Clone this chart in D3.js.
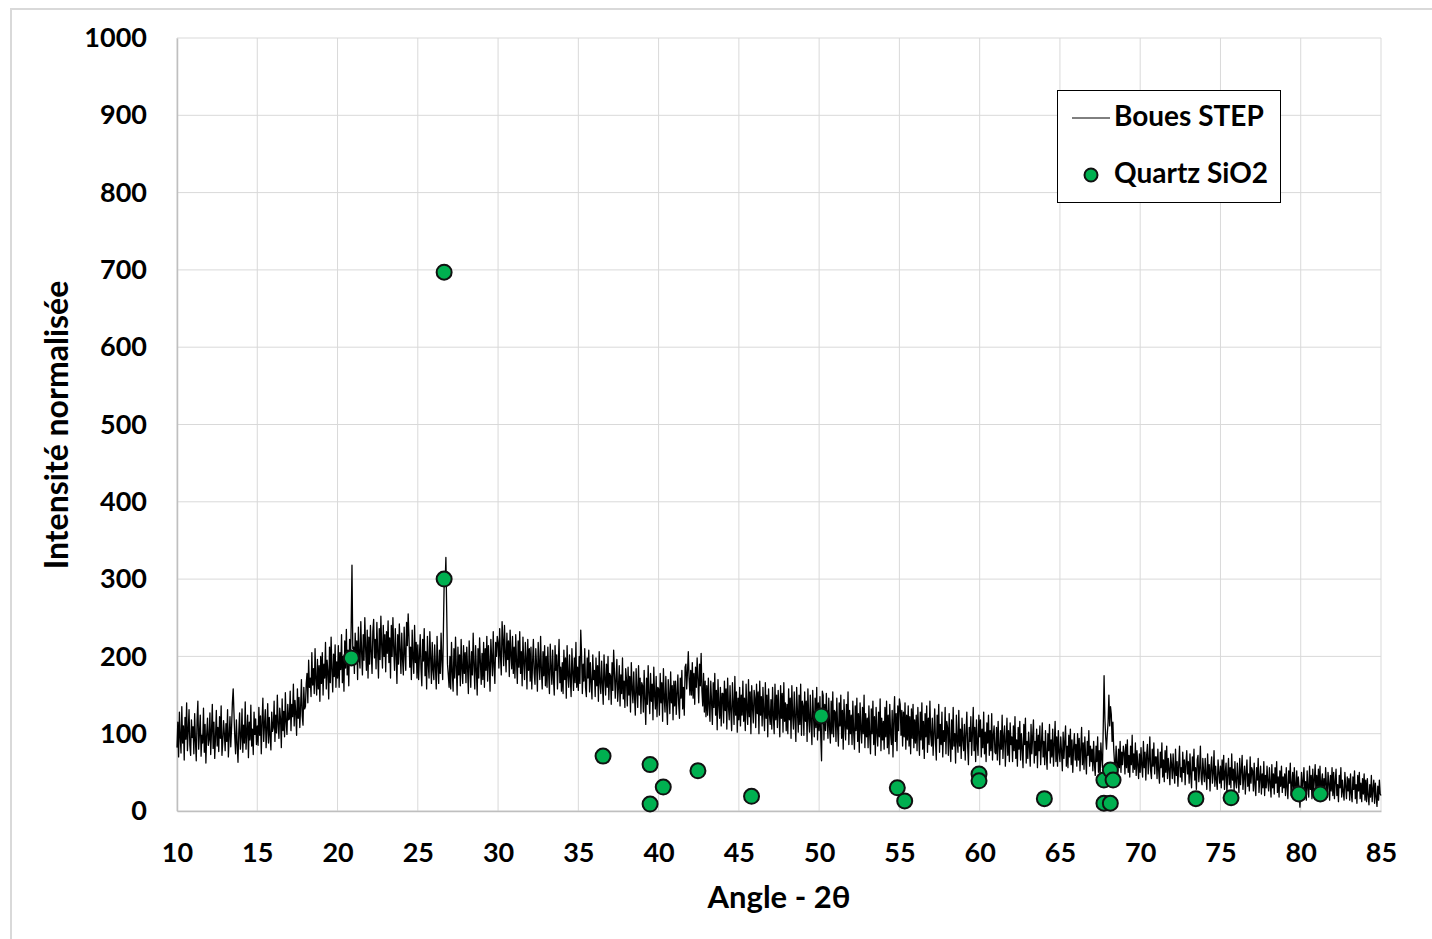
<!DOCTYPE html>
<html><head><meta charset="utf-8">
<script src="https://d3js.org/d3.v7.min.js"></script>
<style>
body{margin:0;background:#fff}
svg text{font-family:Lato,"Open Sans",sans-serif;font-weight:bold;fill:#000}
</style></head><body>
<svg id="c" width="1432" height="939"></svg>
<script>
// Diffractogram "Boues STEP": intensities from 10° to 85° every 0.05°
const angleStart = 10, angleStep = 0.05;
const intensity = [
82,115,70,128,96,75,135,88,110,66,121,93,140,78,104,131,85,72,118,95,
109,74,126,90,65,117,142,80,101,124,71,98,88,133,76,112,62,99,120,85,
92,127,73,104,138,81,115,68,96,130,84,108,77,122,94,136,72,89,117,100,
78,113,90,131,70,97,122,83,108,140,158,126,95,74,118,86,63,102,127,80,
95,132,76,111,88,141,80,103,124,69,115,92,137,84,106,73,128,99,119,86,
110,85,134,98,123,74,116,146,90,112,131,82,105,139,88,121,97,79,128,103,
108,142,90,124,101,150,112,94,133,119,82,145,104,129,96,153,115,99,138,118,
119,155,104,138,122,164,110,143,127,98,158,120,147,108,134,170,123,111,160,132,
135,165,178,140,195,160,172,148,205,163,184,152,210,170,150,196,158,188,142,200,
165,205,150,190,172,218,158,195,180,145,212,166,225,182,154,203,174,215,160,193,
172,214,160,205,183,228,166,200,155,220,185,235,176,208,162,222,190,240,318,210,
212,178,230,192,220,170,238,200,185,245,205,176,228,195,250,210,182,234,172,225,
190,240,205,178,232,248,198,222,184,244,206,172,236,196,252,214,185,240,200,228,
180,232,204,246,192,224,172,240,200,250,210,182,236,202,165,228,190,242,208,178,
230,196,176,238,204,182,244,214,255,226,186,212,170,234,198,178,240,192,218,172,
215,170,200,228,184,162,222,194,236,175,206,158,226,190,172,232,198,165,218,182,
170,215,186,158,226,190,165,208,178,230,195,170,240,305,292,328,260,190,176,160,
200,158,218,180,155,210,172,225,186,150,212,176,202,162,222,184,165,214,178,205,
166,212,185,152,220,190,160,206,176,230,188,158,214,182,150,210,172,224,192,164,
204,170,218,160,210,182,226,168,214,190,155,222,198,175,232,186,165,218,200,226,
218,185,236,200,176,245,222,188,240,204,180,230,196,220,174,234,202,184,226,178,
212,172,228,194,165,220,186,232,178,206,162,225,192,170,218,198,158,222,182,210,
168,212,158,192,222,178,164,210,188,155,218,190,170,226,182,158,206,175,214,162,
200,160,212,178,152,216,186,164,208,172,150,214,182,202,158,190,222,166,186,155,
192,152,208,170,198,146,214,176,160,202,172,148,210,180,156,198,166,218,160,186,
156,200,165,234,204,152,190,168,210,160,148,198,172,208,154,192,166,145,202,170,
182,148,198,162,188,142,206,166,152,194,164,138,202,172,150,190,160,200,144,178,
175,138,192,156,208,180,146,170,196,142,160,188,136,176,152,198,145,168,134,184,
170,136,186,150,174,128,192,158,140,180,148,124,184,156,134,188,150,172,126,166,
162,128,182,144,112,172,138,188,150,126,178,142,164,118,186,150,132,174,122,160,
158,124,178,140,166,116,184,146,128,174,138,112,170,150,126,180,140,162,118,168,
136,168,125,152,176,138,120,172,146,182,132,160,124,186,190,158,180,206,172,150,
182,150,192,146,178,138,186,160,198,170,140,190,162,204,155,136,178,128,168,122,
162,124,172,136,116,168,140,112,166,134,178,124,156,105,170,138,120,160,110,152,
152,114,168,130,158,106,172,136,118,162,128,104,166,138,112,174,124,154,102,146,
118,160,110,150,124,168,116,146,104,164,132,112,170,122,154,100,162,134,114,156,
146,108,164,126,154,100,168,124,148,110,160,128,104,166,120,150,96,158,126,112,
144,106,160,122,100,164,118,150,108,156,126,96,162,120,152,102,166,116,140,104,
138,100,158,118,146,94,162,124,106,154,120,90,160,128,102,150,112,164,98,142,
136,98,154,116,142,90,158,120,102,150,114,86,156,122,96,146,108,160,92,140,
104,148,96,65,155,150,92,138,104,152,118,94,146,108,88,142,100,154,96,130,
128,90,146,108,84,140,110,150,94,130,80,144,112,92,138,106,154,86,130,100,
124,86,142,102,80,136,104,146,90,126,76,140,106,88,134,100,150,82,126,96,
120,82,136,98,74,132,100,142,86,122,72,134,102,84,128,96,145,78,120,92,
116,80,134,96,142,82,124,74,138,100,86,130,70,118,148,90,126,78,136,104,
145,138,98,130,84,128,96,140,80,124,92,136,84,122,74,132,94,138,82,118,
88,124,78,134,100,72,128,92,140,80,116,68,126,96,136,76,120,86,142,98,
84,120,72,100,132,88,66,124,94,138,76,112,86,128,70,104,90,134,74,116,
108,72,126,88,64,118,80,134,84,100,62,124,90,76,130,84,106,68,120,92,
78,112,66,100,128,84,60,108,90,122,72,100,134,78,108,64,118,88,72,124,
96,118,70,106,82,128,74,102,64,114,88,124,72,104,78,126,66,98,110,76,
74,108,66,116,84,60,104,80,124,68,96,110,58,90,120,72,104,64,114,86,
96,64,110,78,122,68,92,58,108,80,116,66,100,82,56,112,86,120,62,90,
68,102,84,58,112,74,96,118,62,90,72,106,56,98,78,110,60,88,114,70,
90,60,104,72,54,100,78,112,62,92,70,106,58,86,116,64,96,58,104,76,
64,96,76,52,102,68,90,110,58,84,56,98,70,106,60,92,50,82,100,66,
86,58,100,66,94,52,80,108,60,88,54,96,70,48,90,72,104,58,84,64,
80,52,90,60,46,84,64,96,50,78,44,88,68,56,110,175,120,95,80,100,
115,150,110,135,125,90,115,80,62,54,84,60,48,80,56,90,50,76,60,84,
76,48,86,56,92,50,72,44,84,60,98,50,74,54,88,46,78,60,42,74,
50,82,58,44,90,56,76,40,72,86,48,64,96,52,42,80,58,88,48,70,
70,42,80,52,36,76,56,88,44,66,38,78,50,84,42,68,54,34,74,60,
42,74,52,36,80,46,64,32,60,84,44,56,38,76,50,66,34,62,78,48,
64,36,74,46,30,70,52,80,40,56,28,66,72,38,54,84,42,34,68,50,
38,68,46,28,74,42,60,26,56,70,36,48,78,32,58,40,28,66,50,36,
58,30,66,40,72,28,50,62,24,46,68,34,56,30,74,40,54,26,64,38,
30,62,42,24,68,34,52,72,28,44,58,22,50,66,32,48,26,70,36,56,
52,26,62,34,20,56,40,68,24,42,58,22,48,30,64,20,46,30,58,38,
26,56,36,18,60,30,48,22,56,36,64,24,44,18,52,32,58,24,44,30,
48,20,56,30,16,52,36,62,20,34,50,16,56,32,24,52,18,44,30,5,
24,50,18,40,56,22,38,14,52,30,18,58,28,46,16,54,24,40,60,22,
46,18,54,28,58,16,38,48,14,42,22,56,34,18,50,36,14,46,26,56,
20,50,16,38,54,20,34,12,46,30,56,18,40,24,14,50,32,16,44,26,
42,14,48,22,12,44,28,52,16,34,10,46,26,50,16,36,12,42,22,48,
14,40,12,42,20,8,34,18,46,12,28,40,10,36,18,6,32,14,40,22,
20
];

// Quartz SiO2 reference peaks
const quartzAngle = [20.86, 26.64, 26.64, 36.54, 39.47, 39.47, 40.29, 42.45, 45.79, 50.14,
  54.87, 55.33, 59.96, 59.96, 64.03, 67.74, 68.14, 68.31, 67.74, 68.14, 73.47, 75.66, 79.88, 81.22];
const quartzIntensity = [198, 697, 300, 71, 60, 9, 31, 52, 19, 123,
  30, 13, 48, 39, 16, 40, 53, 40, 10, 10, 16, 17, 22, 22];

const xTicks = [10,15,20,25,30,35,40,45,50,55,60,65,70,75,80,85];
const yTicks = [0,100,200,300,400,500,600,700,800,900,1000];
const seriesNames = ["Boues STEP", "Quartz SiO2"];
const xTitle = "Angle - 2θ";
const yTitle = "Intensité normalisée";

const svg = d3.select("#c");
const L = 177, R = 1381, T = 38, B = 811;
const x = d3.scaleLinear().domain([10, 85]).range([L, R]);
const y = d3.scaleLinear().domain([0, 1000]).range([B, T]);

// outer chart border
svg.append("rect").attr("x", 11).attr("y", 9).attr("width", 1440).attr("height", 960)
  .attr("fill", "none").attr("stroke", "#d9d9d9").attr("stroke-width", 2);

// gridlines
svg.append("g").selectAll("line").data(yTicks).join("line")
  .attr("x1", L).attr("x2", R).attr("y1", d => y(d)).attr("y2", d => y(d))
  .attr("stroke", "#d9d9d9").attr("stroke-width", 1);
svg.append("g").selectAll("line").data(xTicks).join("line")
  .attr("y1", T).attr("y2", B).attr("x1", d => x(d)).attr("x2", d => x(d))
  .attr("stroke", "#d9d9d9").attr("stroke-width", 1);

// axes
const xAxis = svg.append("g").attr("transform", `translate(0,${B})`)
  .call(d3.axisBottom(x).tickValues(xTicks).tickSize(0).tickFormat(d3.format("d")));
const yAxis = svg.append("g").attr("transform", `translate(${L},0)`)
  .call(d3.axisLeft(y).tickValues(yTicks).tickSize(0).tickPadding(30).tickFormat(d3.format("d")));
[xAxis, yAxis].forEach(g => {
  g.select(".domain").attr("stroke", "#bfbfbf").attr("stroke-width", 1.5);
  g.selectAll("text").style("font-size", "27px").attr("font-family", null);
});
xAxis.selectAll("text").attr("dy", "0.35em").attr("y", 42);

// line
const pts = intensity.map((v, i) => [angleStart + i * angleStep, v]);
svg.append("path").datum(pts)
  .attr("fill", "none").attr("stroke", "#000").attr("stroke-width", 1.3).attr("stroke-linejoin", "round")
  .attr("d", d3.line().x(d => x(d[0])).y(d => y(d[1])));

// quartz markers
svg.append("g").selectAll("circle").data(quartzAngle.map((a, i) => [a, quartzIntensity[i]])).join("circle")
  .attr("cx", d => x(d[0])).attr("cy", d => y(d[1])).attr("r", 7.5)
  .attr("fill", "#00b050").attr("stroke", "#111").attr("stroke-width", 2);

// titles
svg.append("text").attr("x", 779).attr("y", 900).attr("text-anchor", "middle")
  .attr("dominant-baseline", "middle").style("font-size", "31px").text(xTitle);
svg.append("text").attr("transform", `translate(60,425) rotate(-90)`).attr("text-anchor", "middle")
  .attr("dominant-baseline", "middle").style("font-size", "32px").text(yTitle);

// legend
const lg = svg.append("g");
lg.append("rect").attr("x", 1057.5).attr("y", 90.5).attr("width", 223).attr("height", 112)
  .attr("fill", "#fff").attr("stroke", "#000").attr("stroke-width", 1);
lg.append("line").attr("x1", 1072).attr("x2", 1110).attr("y1", 118).attr("y2", 118)
  .attr("stroke", "#000").attr("stroke-width", 1);
lg.append("text").attr("x", 1114).attr("y", 119).attr("dominant-baseline", "middle")
  .style("font-size", "28px").text(seriesNames[0]);
lg.append("circle").attr("cx", 1091).attr("cy", 175).attr("r", 6.5)
  .attr("fill", "#00b050").attr("stroke", "#111").attr("stroke-width", 2);
lg.append("text").attr("x", 1114).attr("y", 176).attr("dominant-baseline", "middle")
  .style("font-size", "28px").text(seriesNames[1]);
</script></body></html>
